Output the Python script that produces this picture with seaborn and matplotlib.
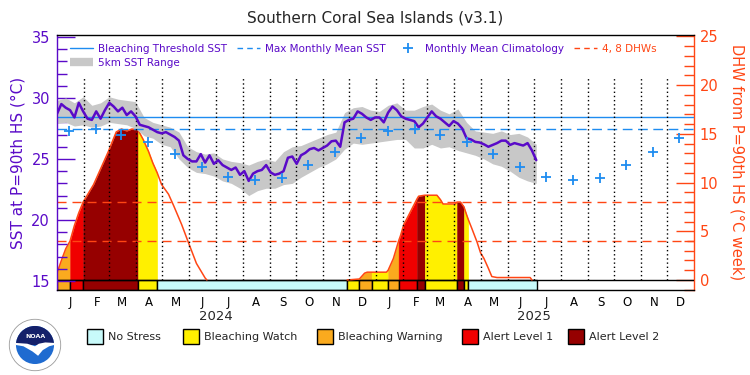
import numpy as np
import pandas as pd
import matplotlib
matplotlib.use('Agg')
import matplotlib.pyplot as plt
from matplotlib.lines import Line2D
from matplotlib.patches import Rectangle, Circle, Wedge, Polygon
from matplotlib.ticker import MultipleLocator
import seaborn as sns

sns.set_style('white')
plt.rcParams['font.family'] = ['DejaVu Sans']

START = pd.Timestamp('2024-01-01')
END = pd.Timestamp('2026-01-01')

# SST at P=90th HS, one sample every 5 days from 1 Jan 2024
SST_STEP = 5
SST = [28.7, 29.5, 29.2, 29.0, 28.4, 29.6, 28.9, 28.3, 28.2, 28.9,
       28.3, 29.0, 29.6, 29.3, 28.9, 29.2, 28.6, 28.9, 28.5, 27.8,
       27.7, 27.6, 27.4, 27.2, 27.1, 27.2, 27.0, 26.8, 26.5, 25.3,
       25.0, 24.8, 24.8, 25.4, 24.7, 25.3, 24.6, 24.9, 24.5, 24.3,
       24.1, 24.3, 23.7, 24.0, 23.2, 23.8, 24.0, 24.1, 24.5, 23.9,
       23.7, 23.8, 24.0, 25.1, 25.2, 24.6, 25.3, 25.5, 25.8, 25.9,
       25.7, 25.9, 26.1, 26.45, 26.5, 26.0, 28.0, 28.2, 28.3, 28.9,
       28.7, 28.4, 28.2, 28.4, 28.4, 28.0, 28.8, 29.3, 29.0, 28.5,
       28.3, 28.2, 28.1, 27.6, 27.9, 28.4, 28.9, 28.5, 28.3, 28.0,
       27.7, 28.1, 27.9, 27.5, 26.7, 26.6, 26.4, 26.35, 26.2, 26.0,
       26.15, 26.3, 26.5, 26.5, 26.15, 26.3, 26.2, 26.1, 26.3, 25.7, 24.9]

# 5km SST range, one sample every 10 days
RANGE_STEP = 10
SST_LO = [27.9, 28.0, 27.7, 27.8, 27.6, 27.7, 28.0, 27.9, 27.8, 27.5,
          26.9, 26.7, 26.2, 26.0, 25.0, 24.3, 23.9, 23.8, 23.6, 23.2,
          23.0, 22.6, 22.0, 22.4, 22.6, 22.6, 22.9, 23.0, 23.5, 23.9,
          24.3, 24.6, 25.0, 25.8, 26.3, 26.2, 26.3, 26.4, 26.5, 26.6,
          26.6, 25.9, 25.9, 26.2, 25.9, 26.0, 25.7, 25.5, 25.3, 25.0,
          24.6, 24.4, 24.0, 23.5, 23.2, 23.0]
SST_HI = [29.8, 30.0, 29.6, 30.1, 29.4, 29.6, 30.1, 29.9, 29.8, 29.7,
          28.4, 28.0, 27.8, 27.6, 27.2, 26.0, 25.6, 25.4, 25.5, 25.0,
          24.8, 24.7, 24.5, 24.8, 25.0, 24.8, 25.6, 26.0, 26.1, 26.4,
          26.7, 27.0, 27.2, 28.8, 29.2, 29.3, 29.0, 28.9, 29.4, 29.6,
          29.0, 29.0, 29.3, 29.5, 29.0, 28.7, 29.1, 28.0, 27.3, 27.2,
          27.1, 27.3, 27.0, 27.1, 26.8, 26.2]

MONTH_LETTERS = list('JFMAMJJASOND')
CLIM = [27.3, 27.43, 26.97, 26.37, 25.41, 24.33, 23.5, 23.25, 23.42, 24.47, 25.6, 26.7]
MMM = 27.45
THRESHOLD = 28.45

# degree heating weeks (day since 1 Jan 2024, value)
DHW_DAYS = [0, 5, 10, 15, 20, 25, 30, 36, 42, 47, 53, 59, 63, 68, 74, 80, 86, 93, 99, 105,
            110, 115, 120, 128, 134, 143, 151, 160, 170, 172,
            333, 347, 353, 356, 361, 378, 380, 383, 386, 390, 392, 394, 398, 401, 405, 409, 413, 415,
            422, 436, 440, 443, 457, 459, 463, 467, 470, 472, 476, 482, 486, 490, 495, 499, 505,
            543, 545, 550]
DHW = [0.7, 2.0, 3.2, 4.0, 5.6, 6.9, 8.0, 8.9, 9.8, 10.8, 12.0, 13.2, 14.1, 15.2, 15.5, 15.3, 15.5, 15.4, 14.4, 13.2,
       12.0, 11.0, 9.8, 8.8, 7.6, 5.7, 3.8, 1.7, 0.2, 0.0,
       0.0, 0.1, 0.7, 0.8, 0.8, 0.8, 1.0, 1.6, 2.2, 3.4, 4.0, 4.5, 5.7, 6.2, 6.9, 7.6, 8.3, 8.6,
       8.7, 8.7, 8.25, 7.8, 7.8, 8.0, 8.0, 7.5, 6.7, 6.2, 5.3, 3.9, 2.8, 2.2, 1.2, 0.35, 0.25,
       0.25, 0.0, 0.0]

# bleaching alert status periods
STATUS_EDGES = [0, 15, 30, 93, 115, 333, 347, 361, 380, 392, 413, 422, 459, 467, 472, 551]
STATUS = ['Bleaching Warning', 'Alert Level 1', 'Alert Level 2', 'Bleaching Watch', 'No Stress',
          'Bleaching Watch', 'Bleaching Warning', 'Bleaching Watch', 'Bleaching Warning', 'Alert Level 1',
          'Alert Level 2', 'Bleaching Watch', 'Alert Level 2', 'Bleaching Watch', 'No Stress']
STATUS_NAMES = ['No Stress', 'Bleaching Watch', 'Bleaching Warning', 'Alert Level 1', 'Alert Level 2']
STATUS_COLORS = ['#C8FAFA', '#FFF000', '#FAAA1E', '#F00000', '#960000']
COL = dict(zip(STATUS_NAMES, STATUS_COLORS))

PURPLE = '#5A0AC8'
BLUE = '#1E8CF0'
RED = '#FF4614'
GRAY = '#C8C8C8'

# --- tidy frames ---
sst_df = pd.DataFrame({'day': np.arange(len(SST)) * SST_STEP, 'sst': SST})
rng_days = np.arange(len(SST_LO)) * RANGE_STEP
months = pd.date_range(START, periods=24, freq='MS')
month_days = (months - START).days.values
clim_df = pd.DataFrame({'day': month_days + 14, 'clim': CLIM * 2})
dhw_df = pd.DataFrame({'day': DHW_DAYS, 'dhw': DHW})
dhw_df['event'] = np.where(dhw_df['day'] < 250, 1, 2)
pos = dhw_df['dhw'] > 0
keep = pos | pos.shift(1, fill_value=False) | pos.shift(-1, fill_value=False)
dhw_line = dhw_df[keep]

# --- figure ---
fig = plt.figure(figsize=(7.5, 3.75), dpi=100)
ax = fig.add_axes([57 / 750, 1 - 290 / 375, 637 / 750, 255 / 375])
ax2 = ax.twinx()
ax.set_zorder(ax2.get_zorder() + 1)
ax.patch.set_visible(False)

# DHW fills coloured by alert status
d = dhw_df['day'].values
v = dhw_df['dhw'].values
for s, e, st in zip(STATUS_EDGES[:-1], STATUS_EDGES[1:], STATUS):
    if st == 'No Stress':
        continue
    m = (d >= s) & (d <= e)
    ax2.fill_between(d[m], 0, v[m], color=COL[st], lw=0.3, zorder=1)

# status bar
starts = np.array(STATUS_EDGES[:-1])
widths = np.diff(STATUS_EDGES)
ax2.bar(starts, 1.03, width=widths, bottom=-1.03, align='edge',
        color=[COL[s] for s in STATUS], edgecolor='black', linewidth=1, zorder=2)
ax2.axhline(0, color='black', lw=1, zorder=3)
for lvl in (4, 8):
    ax2.axhline(lvl, color=RED, lw=1, ls=(0, (6.5, 4.3)), zorder=3)
sns.lineplot(data=dhw_line, x='day', y='dhw', units='event', estimator=None,
             color=RED, lw=1.1, ax=ax2, legend=False, zorder=4)

# SST part
ax.fill_between(rng_days, SST_LO, SST_HI, color=GRAY, lw=0, zorder=1)
ax.axhline(THRESHOLD, color=BLUE, lw=1.0, zorder=2)
ax.axhline(MMM, color=BLUE, lw=1.0, ls=(0, (7, 4)), zorder=2)
ax.vlines(month_days[1:], 15.08, 31.6, colors='black', linestyles=(0, (1, 2)), lw=1, zorder=2)
sns.lineplot(data=sst_df, x='day', y='sst', color=PURPLE, lw=1.8, ax=ax, zorder=3)
sns.scatterplot(data=clim_df, x='day', y='clim', marker='+', s=55, color=BLUE,
                linewidth=1.3, ax=ax, zorder=4, legend=False)

# axes limits / ticks
ax.set_xlim(0, (END - START).days)
ax.set_ylim(14.26, 35.16)
ax2.set_ylim(-1.03, 25.15)

ax.set_xticks(month_days + 15)
ax.set_xticklabels(MONTH_LETTERS * 2)
ax.tick_params(axis='x', length=0, labelsize=8.5, pad=4, bottom=True, colors='black')
for yr in (2024, 2025):
    ax.text((pd.Timestamp(f'{yr}-07-01') - START).days, -0.105, str(yr),
            transform=ax.get_xaxis_transform(), ha='center', va='center', fontsize=9.5)

ax.yaxis.set_major_locator(MultipleLocator(5))
ax.yaxis.set_minor_locator(MultipleLocator(1))
ax.tick_params(axis='y', which='both', direction='in', left=True, right=False,
               color=PURPLE, labelcolor=PURPLE)
ax.tick_params(axis='y', which='major', length=13, width=1, labelsize=10.5, pad=5)
ax.tick_params(axis='y', which='minor', length=7, width=1)

ax2.yaxis.set_major_locator(MultipleLocator(5))
ax2.yaxis.set_minor_locator(MultipleLocator(1))
ax2.tick_params(axis='y', which='both', direction='in', right=True, left=False,
                color=RED, labelcolor=RED)
ax2.tick_params(axis='y', which='major', length=13, width=1, labelsize=10.5, pad=4)
ax2.tick_params(axis='y', which='minor', length=7, width=1)

for sp in ('top', 'bottom'):
    ax.spines[sp].set_color('black')
    ax.spines[sp].set_linewidth(1)
ax.spines['left'].set_color(PURPLE)
ax.spines['left'].set_linewidth(1)
ax.spines['right'].set_visible(False)
for sp in ('left', 'top', 'bottom'):
    ax2.spines[sp].set_visible(False)
ax2.spines['right'].set_color(RED)
ax2.spines['right'].set_linewidth(1)

ax.set_xlabel('')
ax2.set_xlabel('')
ax.set_ylabel('SST at P=90th HS (°C)', color=PURPLE, fontsize=11, labelpad=4)
ax2.set_ylabel('DHW from P=90th HS (°C week)', color=RED, fontsize=10.5, rotation=270,
               va='bottom', labelpad=8)

# upper legend
handles = [Line2D([], [], color=BLUE, lw=1.0),
           Line2D([], [], color=GRAY, lw=6, solid_capstyle='butt'),
           Line2D([], [], color=BLUE, lw=1.0, ls=(0, (4, 3))),
           Line2D([], [], color=BLUE, marker='+', ls='none', ms=7, mew=1.3),
           Line2D([], [], color=RED, lw=1.0, ls=(0, (4, 3)))]
labels = ['Bleaching Threshold SST', '5km SST Range', 'Max Monthly Mean SST',
          'Monthly Mean Climatology', '4, 8 DHWs']
leg = ax.legend(handles, labels, ncol=4, loc='upper left', bbox_to_anchor=(0.02, 0.965),
                frameon=False, fontsize=7.5, handlelength=2.2, handletextpad=0.5,
                columnspacing=1.0, labelspacing=0.35, borderaxespad=0, borderpad=0)
for t, c in zip(leg.get_texts(), [PURPLE] * 4 + [RED]):
    t.set_color(c)

fig.text(0.5, 1 - 18 / 375, 'Southern Coral Sea Islands (v3.1)', ha='center', va='center',
         fontsize=11)

# alert level legend
BOX_X = [87, 183, 317, 462, 568]
for x, name in zip(BOX_X, STATUS_NAMES):
    fig.add_artist(Rectangle((x / 750, 1 - 344 / 375), 16 / 750, 15 / 375,
                             transform=fig.transFigure, fc=COL[name], ec='black', lw=1))
    fig.text((x + 21) / 750, 1 - 336.5 / 375, name, fontsize=8, ha='left', va='center')

# NOAA logo
lax = fig.add_axes([8 / 750, 1 - 373 / 375, 54 / 750, 56 / 375])
lax.set_xlim(-1.05, 1.05)
lax.set_ylim(-1.05, 1.05)
lax.set_aspect('equal')
lax.axis('off')
lax.add_patch(Circle((0, 0), 1.0, fc='white', ec='#9a9a9a', lw=0.6))
lax.add_patch(Circle((0, 0), 0.74, fc='#1F6BD0', ec='none'))
lax.add_patch(Wedge((0, 0), 0.74, 0, 180, fc='#14206A', ec='none'))
lax.add_patch(Polygon([(-0.74, 0), (-0.45, -0.05), (-0.1, -0.25), (0.12, -0.42), (0.3, -0.2),
                       (0.55, -0.05), (0.74, 0), (0.74, 0.08), (0.4, 0.1), (0.15, 0.05),
                       (0.0, -0.05), (-0.3, 0.05), (-0.74, 0.08)], fc='white', ec='none'))
lax.text(0, 0.35, 'NOAA', color='white', fontsize=4.5, fontweight='bold', ha='center', va='center')

fig.savefig('out.png', dpi=100)
